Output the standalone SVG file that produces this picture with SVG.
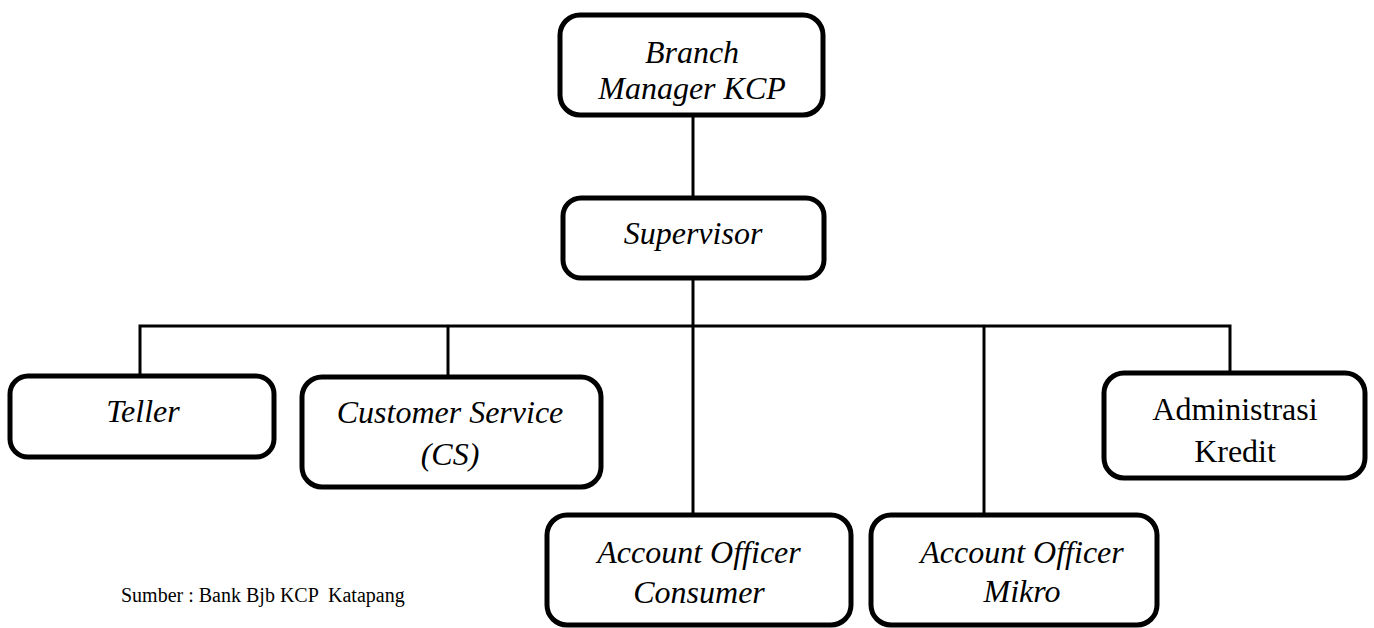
<svg xmlns="http://www.w3.org/2000/svg" width="1374" height="628" viewBox="0 0 1374 628">
<style>
.box{fill:#fff;stroke:#000;stroke-width:5}
.t{font-family:"Liberation Serif",serif;font-size:32px;font-style:italic;text-anchor:middle;fill:#000}
.n{font-family:"Liberation Serif",serif;font-size:32px;text-anchor:middle;fill:#000}
.c{fill:none;stroke:#000;stroke-width:3}
.src{font-family:"Liberation Serif",serif;font-size:20px;fill:#000}
</style>
<rect width="1374" height="628" fill="#fff"/>
<g id="connectors">
<line class="c" x1="693" y1="117" x2="693" y2="198"/>
<line class="c" x1="693" y1="278" x2="693" y2="513"/>
<polyline class="c" points="140,376 140,326 1230,326 1230,373"/>
<line class="c" x1="448" y1="326" x2="448" y2="377"/>
<line class="c" x1="984" y1="326" x2="984" y2="515"/>
</g>
<g id="branch-manager">
<rect class="box" x="560" y="15" width="263" height="100" rx="20"/>
<text class="t" x="692" y="63">Branch</text>
<text class="t" x="692" y="99">Manager KCP</text>
</g>
<g id="supervisor">
<rect class="box" x="563" y="198" width="261" height="80" rx="18"/>
<text class="t" x="693" y="244">Supervisor</text>
</g>
<g id="teller">
<rect class="box" x="10" y="376" width="264" height="81" rx="18"/>
<text class="t" x="143" y="422">Teller</text>
</g>
<g id="customer-service">
<rect class="box" x="302" y="377" width="299" height="110" rx="20"/>
<text class="t" x="450" y="423">Customer Service</text>
<text class="t" x="450" y="465">(CS)</text>
</g>
<g id="ao-consumer">
<rect class="box" x="547" y="515" width="304" height="110" rx="20"/>
<text class="t" x="699" y="563">Account Officer</text>
<text class="t" x="699" y="603">Consumer</text>
</g>
<g id="ao-mikro">
<rect class="box" x="871" y="515" width="286" height="110" rx="20"/>
<text class="t" x="1022" y="563">Account Officer</text>
<text class="t" x="1022" y="602">Mikro</text>
</g>
<g id="administrasi-kredit">
<rect class="box" x="1104" y="373" width="261" height="105" rx="20"/>
<text class="n" x="1235" y="420">Administrasi</text>
<text class="n" x="1235" y="462">Kredit</text>
</g>
<text class="src" x="121" y="602" xml:space="preserve">Sumber : Bank Bjb KCP  Katapang</text>
</svg>
